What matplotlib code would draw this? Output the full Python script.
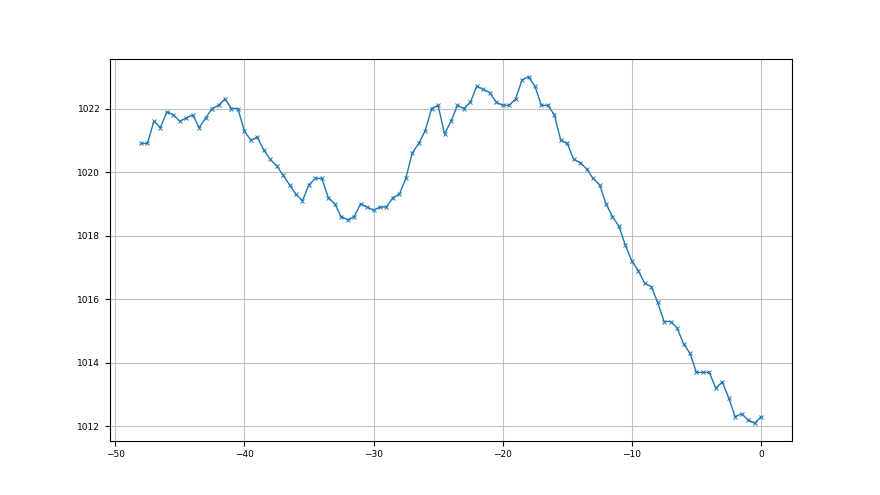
import numpy as np
import matplotlib
matplotlib.use("Agg")
from matplotlib import pyplot as plt

# hours before now, one reading every half hour
hours = np.arange(-48, 0.5, 0.5)

pressure = [
    1020.9, 1020.9, 1021.6, 1021.4, 1021.9, 1021.8, 1021.6, 1021.7, 1021.8, 1021.4,
    1021.7, 1022.0, 1022.1, 1022.3, 1022.0, 1022.0, 1021.3, 1021.0, 1021.1, 1020.7,
    1020.4, 1020.2, 1019.9, 1019.6, 1019.3, 1019.1, 1019.6, 1019.8, 1019.8, 1019.2,
    1019.0, 1018.6, 1018.5, 1018.6, 1019.0, 1018.9, 1018.8, 1018.9, 1018.9, 1019.2,
    1019.3, 1019.8, 1020.6, 1020.9, 1021.3, 1022.0, 1022.1, 1021.2, 1021.6, 1022.1,
    1022.0, 1022.2, 1022.7, 1022.6, 1022.5, 1022.2, 1022.1, 1022.1, 1022.3, 1022.9,
    1023.0, 1022.7, 1022.1, 1022.1, 1021.8, 1021.0, 1020.9, 1020.4, 1020.3, 1020.1,
    1019.8, 1019.6, 1019.0, 1018.6, 1018.3, 1017.7, 1017.2, 1016.9, 1016.5, 1016.4,
    1015.9, 1015.3, 1015.3, 1015.1, 1014.6, 1014.3, 1013.7, 1013.7, 1013.7, 1013.2,
    1013.4, 1012.9, 1012.3, 1012.4, 1012.2, 1012.1, 1012.3,
]

fig, ax = plt.subplots(figsize=(8.8, 4.95), dpi=100)
ax.plot(hours, pressure, marker='x', markersize=3.5, markeredgewidth=0.7,
        linewidth=1, color='#1f77b4')
ax.grid(True, color='#c0c0c0', linewidth=0.8)
ax.tick_params(labelsize=6.5)
ax.set_xticks([-50, -40, -30, -20, -10, 0])
ax.set_yticks([1012, 1014, 1016, 1018, 1020, 1022])

fig.savefig("out.png", dpi=100)
